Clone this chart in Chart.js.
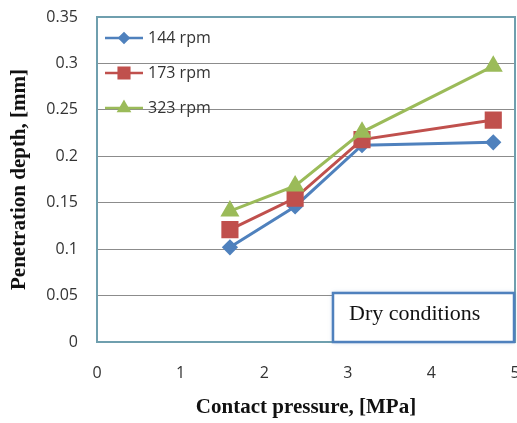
<!DOCTYPE html>
<html lang="en">

<head>
    <meta charset="UTF-8">
    <script src="https://cdn.jsdelivr.net/npm/chart.js"></script>
    <title>Penetration depth</title>
    <style>
        html, body {
            margin: 0;
            padding: 0;
            background: #ffffff;
        }

        canvas {
            display: block;
        }
    </style>
</head>

<body>
    <canvas id="myChart" width="517" height="423"></canvas>

    <script>
        // data
        const pressure = [1.59, 2.37, 3.17, 4.74]
        const rpm144 = [0.102, 0.146, 0.212, 0.215]
        const rpm173 = [0.121, 0.155, 0.218, 0.239]
        const rpm323 = [0.141, 0.168, 0.226, 0.297]
        const seriesNames = ['144 rpm', '173 rpm', '323 rpm']
        const xTicks = [0, 1, 2, 3, 4, 5]
        const yTicks = [0, 0.05, 0.1, 0.15, 0.2, 0.25, 0.3, 0.35]
        const noteText = 'Dry conditions'

        const toPoints = (ys) => ys.map((y, i) => ({ x: pressure[i], y: y }))

        // legend drawn inside the plot, no box
        const insideLegend = {
            id: 'insideLegend',
            afterDatasetsDraw(chart) {
                const c = chart.ctx
                const rows = [38, 73, 108]
                chart.data.datasets.forEach((ds, i) => {
                    const y = rows[i]
                    c.save()
                    c.strokeStyle = ds.borderColor
                    c.lineWidth = 2.5
                    c.beginPath()
                    c.moveTo(105, y)
                    c.lineTo(143, y)
                    c.stroke()
                    c.fillStyle = ds.borderColor
                    c.strokeStyle = ds.borderColor
                    Chart.helpers.drawPoint(c, {
                        pointStyle: ds.pointStyle,
                        radius: ds.pointRadius * 0.75,
                        borderWidth: 1
                    }, 124, y)
                    c.fillStyle = '#333333'
                    c.font = '16px "Open Sans"'
                    c.textBaseline = 'middle'
                    c.textAlign = 'left'
                    c.fillText(ds.label, 148, y)
                    c.restore()
                })
            },
            afterDraw(chart) {
                const c = chart.ctx
                const a = chart.chartArea
                c.save()
                // plot frame
                c.strokeStyle = '#6f9fae'
                c.lineWidth = 2
                c.strokeRect(a.left, a.top, a.right - a.left, a.bottom - a.top)
                // note box
                c.shadowColor = 'rgba(79,129,189,0.6)'
                c.shadowBlur = 4
                c.fillStyle = '#ffffff'
                c.fillRect(333, 293, 181, 49)
                c.shadowBlur = 0
                c.strokeStyle = '#4f81bd'
                c.lineWidth = 2.5
                c.strokeRect(333, 293, 181, 49)
                c.fillStyle = '#111111'
                c.font = '22px "Liberation Serif"'
                c.textBaseline = 'middle'
                c.textAlign = 'left'
                c.fillText(noteText, 349, 314)
                c.restore()
            }
        }

        const tickFont = { family: '"Open Sans"', size: 16 }
        const titleFont = { family: '"Liberation Serif"', size: 21, weight: 'bold' }

        var ctx = document.getElementById('myChart').getContext('2d');
        var chart = new Chart(ctx, {
            type: 'line',
            data: {
                datasets: [{
                    label: seriesNames[0],
                    data: toPoints(rpm144),
                    borderColor: '#4f81bd',
                    backgroundColor: '#4f81bd',
                    borderWidth: 3,
                    pointStyle: 'rectRot',
                    pointRadius: 6,
                    order: 3
                }, {
                    label: seriesNames[1],
                    data: toPoints(rpm173),
                    borderColor: '#c0504d',
                    backgroundColor: '#c0504d',
                    borderWidth: 3,
                    pointStyle: 'rect',
                    pointRadius: 10,
                    order: 2
                }, {
                    label: seriesNames[2],
                    data: toPoints(rpm323),
                    borderColor: '#9bbb59',
                    backgroundColor: '#9bbb59',
                    borderWidth: 3,
                    pointStyle: 'triangle',
                    pointRadius: 8,
                    order: 1
                }]
            },
            options: {
                responsive: false,
                animation: false,
                layout: {
                    autoPadding: false,
                    padding: { top: 17, right: 2, left: 0, bottom: 0 }
                },
                plugins: {
                    legend: { display: false },
                    tooltip: { enabled: false }
                },
                scales: {
                    x: {
                        type: 'linear',
                        min: 0,
                        max: 5,
                        grid: { display: false, drawTicks: false },
                        border: { display: false },
                        afterBuildTicks: (s) => { s.ticks = xTicks.map(v => ({ value: v })) },
                        ticks: {
                            padding: 22,
                            color: '#333333',
                            font: tickFont,
                            maxRotation: 0
                        },
                        title: {
                            display: true,
                            text: 'Contact pressure, [MPa]',
                            color: '#111111',
                            font: titleFont,
                            padding: { top: 0, bottom: 3 }
                        },
                        afterFit: (s) => {
                            s.height = 81
                            s.paddingLeft = 0
                            s.paddingRight = 0
                        }
                    },
                    y: {
                        min: 0,
                        max: 0.35,
                        grid: { color: '#8c8c8c', lineWidth: 1, drawTicks: false },
                        border: { display: false },
                        afterBuildTicks: (s) => { s.ticks = yTicks.map(v => ({ value: v })) },
                        ticks: {
                            padding: 19,
                            color: '#333333',
                            font: tickFont,
                            callback: (v) => String(+v.toFixed(2))
                        },
                        title: {
                            display: true,
                            text: 'Penetration depth, [mm]',
                            color: '#111111',
                            font: titleFont,
                            padding: { top: 7, bottom: 0 }
                        },
                        afterFit: (s) => {
                            s.width = 97
                            s.paddingTop = 0
                            s.paddingBottom = 0
                        }
                    }
                }
            },
            plugins: [insideLegend]
        });
    </script>
</body>

</html>
